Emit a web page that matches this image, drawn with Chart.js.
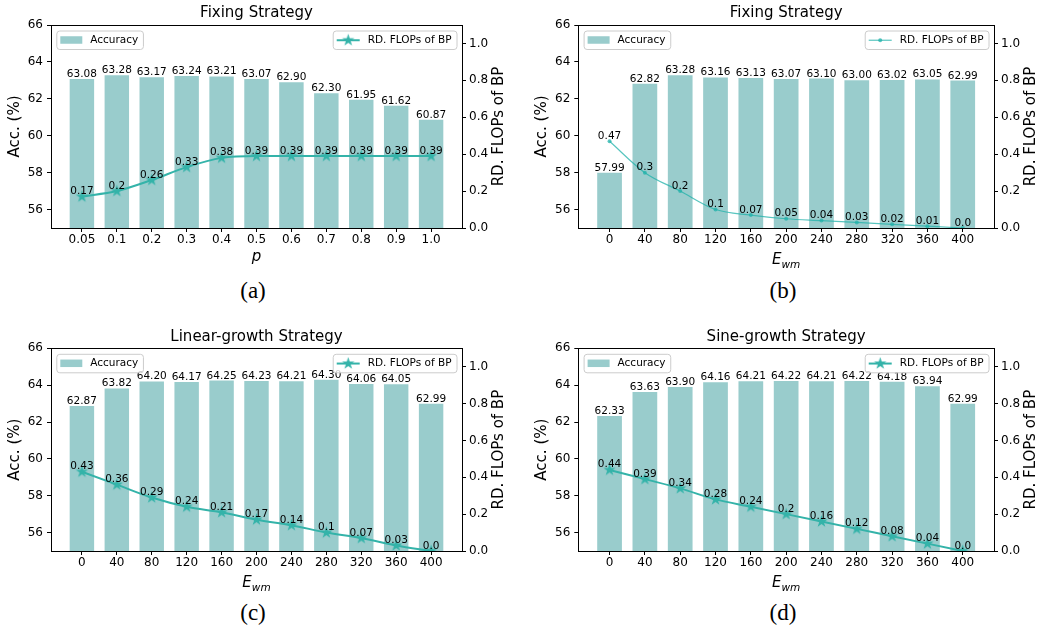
<!DOCTYPE html>
<html>
<head>
<meta charset="utf-8">
<script src="https://cdn.jsdelivr.net/npm/chart.js@4.4.1/dist/chart.umd.min.js"></script>
<style>
    body { margin: 0; width: 1042px; height: 626px; background: #fff; position: relative; overflow: hidden; }
    canvas { position: absolute; }
    .cap { position: absolute; width: 60px; margin-left: -30px; text-align: center; font-family: "Liberation Serif", "Times New Roman", serif; font-size: 23px; line-height: 23px; color: #000; }
</style>
</head>
<body>
<canvas id="chartA" width="520" height="275" style="left:0;top:0"></canvas>
<canvas id="chartB" width="522" height="275" style="left:520px;top:0"></canvas>
<canvas id="chartC" width="520" height="280" style="left:0;top:318px"></canvas>
<canvas id="chartD" width="522" height="280" style="left:520px;top:318px"></canvas>
<div class="cap" style="left:253px;top:279px">(a)</div>
<div class="cap" style="left:783px;top:279px">(b)</div>
<div class="cap" style="left:253px;top:601px">(c)</div>
<div class="cap" style="left:783px;top:601px">(d)</div>
<script>
// values
const pLabels = ['0.05', '0.1', '0.2', '0.3', '0.4', '0.5', '0.6', '0.7', '0.8', '0.9', '1.0'];
const ewmLabels = ['0', '40', '80', '120', '160', '200', '240', '280', '320', '360', '400'];

const accA = [63.08, 63.28, 63.17, 63.24, 63.21, 63.07, 62.90, 62.30, 61.95, 61.62, 60.87];
const flopsA = [0.17, 0.2, 0.26, 0.33, 0.38, 0.39, 0.39, 0.39, 0.39, 0.39, 0.39];
const accB = [57.99, 62.82, 63.28, 63.16, 63.13, 63.07, 63.10, 63.00, 63.02, 63.05, 62.99];
const flopsB = [0.47, 0.3, 0.2, 0.1, 0.07, 0.05, 0.04, 0.03, 0.02, 0.01, 0.0];
const accC = [62.87, 63.82, 64.20, 64.17, 64.25, 64.23, 64.21, 64.30, 64.06, 64.05, 62.99];
const flopsC = [0.43, 0.36, 0.29, 0.24, 0.21, 0.17, 0.14, 0.1, 0.07, 0.03, 0.0];
const accD = [62.33, 63.63, 63.90, 64.16, 64.21, 64.22, 64.21, 64.22, 64.18, 63.94, 62.99];
const flopsD = [0.44, 0.39, 0.34, 0.28, 0.24, 0.2, 0.16, 0.12, 0.08, 0.04, 0.0];

const accTicks = [56, 58, 60, 62, 64, 66];
const flopsTicks = [0, 0.2, 0.4, 0.6, 0.8, 1.0];

const BAR = '#99cccc';
const LINE = '#34b3a9';
const LINE_THIN = 'rgba(32, 178, 170, 0.75)';
const FONT = "'DejaVu Sans', sans-serif";

Chart.defaults.font.family = FONT;
Chart.defaults.color = '#000';

// filled 5-point star like matplotlib's '*'
function makeStar(color, r) {
    const c = document.createElement('canvas');
    const s = Math.ceil(r * 2) + 2;
    c.width = s; c.height = s;
    const g = c.getContext('2d');
    g.fillStyle = color;
    g.beginPath();
    for (let k = 0; k < 10; k++) {
        const rad = k % 2 ? r * 0.382 : r;
        const a = -Math.PI / 2 + k * Math.PI / 5;
        g.lineTo(s / 2 + rad * Math.cos(a), s / 2 + rad * Math.sin(a));
    }
    g.closePath();
    g.fill();
    return c;
}
const star = makeStar(LINE, 6.5);

const fmtFlops = (v) => Number.isInteger(v) ? v.toFixed(1) : String(v);

const panels = [
    { id: 'chartA', title: 'Fixing Strategy', labels: pLabels, acc: accA, flops: flopsA, xTitle: 'p', thin: false,
      L: 51, R: 462, T: 25, B: 228, titleTop: 4.3 },
    { id: 'chartB', title: 'Fixing Strategy', labels: ewmLabels, acc: accB, flops: flopsB, xTitle: 'Ewm', thin: true,
      L: 58.3, R: 474, T: 25, B: 228, titleTop: 4.3 },
    { id: 'chartC', title: 'Linear-growth Strategy', labels: ewmLabels, acc: accC, flops: flopsC, xTitle: 'Ewm', thin: false,
      L: 51, R: 462, T: 30.3, B: 233, titleTop: 9.7 },
    { id: 'chartD', title: 'Sine-growth Strategy', labels: ewmLabels, acc: accD, flops: flopsD, xTitle: 'Ewm', thin: false,
      L: 58.3, R: 474, T: 30.3, B: 233, titleTop: 9.7 }
];

// value labels, frame top, right axis title, x label and the two legends
const extras = {
    id: 'extras',
    afterDatasetsDraw(chart, args, opts) {
        const { ctx } = chart;
        const p = opts.panel;
        ctx.save();
        ctx.font = `10.5px ${FONT}`;
        ctx.fillStyle = '#000';
        ctx.textAlign = 'center';
        ctx.textBaseline = 'alphabetic';
        chart.getDatasetMeta(0).data.forEach((bar, i) => {
            ctx.fillText(p.acc[i].toFixed(2), bar.x, bar.y - 2);
        });
        chart.getDatasetMeta(1).data.forEach((pt, i) => {
            ctx.fillText(fmtFlops(p.flops[i]), pt.x, pt.y - 2.5);
        });
        ctx.restore();
    },
    afterDraw(chart, args, opts) {
        const { ctx, chartArea: a } = chart;
        const p = opts.panel;
        ctx.save();
        // top spine
        ctx.strokeStyle = '#000';
        ctx.lineWidth = 1;
        const ty = Math.round(a.top - 0.5) + 0.5;
        ctx.beginPath(); ctx.moveTo(a.left - 0.5, ty); ctx.lineTo(a.right + 0.5, ty); ctx.stroke();

        // right axis title, reading bottom to top
        ctx.fillStyle = '#000';
        ctx.font = `15px ${FONT}`;
        ctx.textAlign = 'center';
        ctx.textBaseline = 'middle';
        ctx.translate(a.right + 37.5, (a.top + a.bottom) / 2);
        ctx.rotate(-Math.PI / 2);
        ctx.fillText('RD. FLOPs of BP', 0, 0);
        ctx.setTransform(1, 0, 0, 1, 0, 0);

        // x label (italic, with subscript for E_wm)
        const cx = (a.left + a.right) / 2;
        ctx.textBaseline = 'alphabetic';
        if (p.xTitle === 'p') {
            ctx.font = `italic 15px ${FONT}`;
            ctx.fillText('p', cx, a.bottom + 33);
        } else {
            ctx.font = `italic 15px ${FONT}`;
            const wE = ctx.measureText('E').width;
            ctx.font = `italic 10.5px ${FONT}`;
            const wS = ctx.measureText('wm').width;
            const x0 = cx - (wE + wS) / 2;
            ctx.textAlign = 'left';
            ctx.font = `italic 15px ${FONT}`;
            ctx.fillText('E', x0, a.bottom + 36);
            ctx.font = `italic 10.5px ${FONT}`;
            ctx.fillText('wm', x0 + wE, a.bottom + 39.5);
        }

        // legends
        ctx.font = `10.5px ${FONT}`;
        ctx.textAlign = 'left';
        ctx.textBaseline = 'middle';
        const boxH = 18.5;
        const by = a.top + 5.5;
        const frame = (x, w) => {
            ctx.beginPath();
            ctx.roundRect(x + 0.5, by + 0.5, w, boxH, 3);
            ctx.fillStyle = 'rgba(255,255,255,0.8)';
            ctx.fill();
            ctx.strokeStyle = '#cccccc';
            ctx.lineWidth = 1;
            ctx.stroke();
        };
        const accText = 'Accuracy';
        const w1 = 4 + 22 + 8 + ctx.measureText(accText).width + 4.7;
        const x1 = a.left + 5.3;
        frame(x1, w1);
        ctx.fillStyle = BAR;
        ctx.fillRect(x1 + 4, by + boxH / 2 - 3.5, 22, 7.5);
        ctx.fillStyle = '#000';
        ctx.fillText(accText, x1 + 34, by + boxH / 2 + 0.5);

        const rdText = 'RD. FLOPs of BP';
        const w2 = 4 + 23 + 8 + ctx.measureText(rdText).width + 5;
        const x2 = a.right - 5.5 - w2;
        frame(x2, w2);
        const ly = by + boxH / 2 + 0.5;
        ctx.strokeStyle = p.thin ? LINE_THIN : LINE;
        ctx.lineWidth = p.thin ? 1.2 : 2;
        ctx.beginPath(); ctx.moveTo(x2 + 4, ly); ctx.lineTo(x2 + 27, ly); ctx.stroke();
        if (p.thin) {
            ctx.fillStyle = LINE_THIN;
            ctx.beginPath(); ctx.arc(x2 + 15.5, ly, 2, 0, Math.PI * 2); ctx.fill();
        } else {
            ctx.drawImage(star, x2 + 15.5 - star.width / 2, ly - star.height / 2);
        }
        ctx.fillStyle = '#000';
        ctx.fillText(rdText, x2 + 35, by + boxH / 2 + 0.5);
        ctx.restore();
    }
};

panels.forEach((p) => {
    const cv = document.getElementById(p.id);
    const W = cv.width, H = cv.height;
    const tickGrid = { display: true, drawOnChartArea: false, drawTicks: true, tickLength: 4, color: '#000', lineWidth: 1, offset: false };

    new Chart(cv.getContext('2d'), {
        type: 'bar',
        data: {
            datasets: [{
                type: 'bar',
                data: p.acc.map((v, i) => ({ x: i, y: v })),
                yAxisID: 'y',
                backgroundColor: BAR,
                barPercentage: 0.7,
                categoryPercentage: 1,
                order: 2
            }, {
                type: 'line',
                data: p.flops.map((v, i) => ({ x: i, y: v })),
                yAxisID: 'y1',
                borderColor: p.thin ? LINE_THIN : LINE,
                backgroundColor: p.thin ? LINE_THIN : LINE,
                borderWidth: p.thin ? 1.2 : 2,
                pointStyle: p.thin ? 'circle' : star,
                pointRadius: p.thin ? 2 : 6,
                pointBorderWidth: 0,
                cubicInterpolationMode: 'monotone',
                order: 1
            }]
        },
        options: {
            responsive: false,
            animation: false,
            layout: { padding: 0 },
            scales: {
                x: {
                    type: 'linear',
                    offset: false,
                    min: -0.885, max: 10.885,
                    afterBuildTicks: (s) => { s.ticks = p.labels.map((_, i) => ({ value: i })); },
                    afterFit: (s) => { s.height = H - p.B; },
                    grid: tickGrid,
                    border: { display: true, color: '#000', width: 1 },
                    ticks: { callback: (v) => p.labels[v], autoSkip: false, maxRotation: 0, font: { size: 12 }, padding: 1 }
                },
                y: {
                    position: 'left',
                    min: 55, max: 66,
                    afterBuildTicks: (s) => { s.ticks = accTicks.map((v) => ({ value: v })); },
                    afterFit: (s) => { s.width = p.L; },
                    grid: tickGrid,
                    border: { display: true, color: '#000', width: 1 },
                    ticks: { font: { size: 12 }, padding: 4, callback: (v) => String(v) },
                    title: { display: true, text: 'Acc. (%)', font: { size: 15 }, padding: { top: p.L - 36.3 - 9, bottom: 0 } }
                },
                y1: {
                    position: 'right',
                    min: 0, max: 1.1,
                    afterBuildTicks: (s) => { s.ticks = flopsTicks.map((v) => ({ value: v })); },
                    afterFit: (s) => { s.width = W - p.R; },
                    grid: tickGrid,
                    border: { display: true, color: '#000', width: 1 },
                    ticks: { font: { size: 12 }, padding: 3, callback: (v) => v.toFixed(1) }
                }
            },
            plugins: {
                legend: { display: false },
                tooltip: { enabled: false },
                title: {
                    display: true,
                    text: p.title,
                    fullSize: false,
                    color: '#000',
                    font: { size: 15, weight: 'normal' },
                    padding: { top: p.titleTop, bottom: p.T - p.titleTop - 18 }
                },
                extras: { panel: p }
            }
        },
        plugins: [extras]
    });
});
</script>
</body>
</html>
